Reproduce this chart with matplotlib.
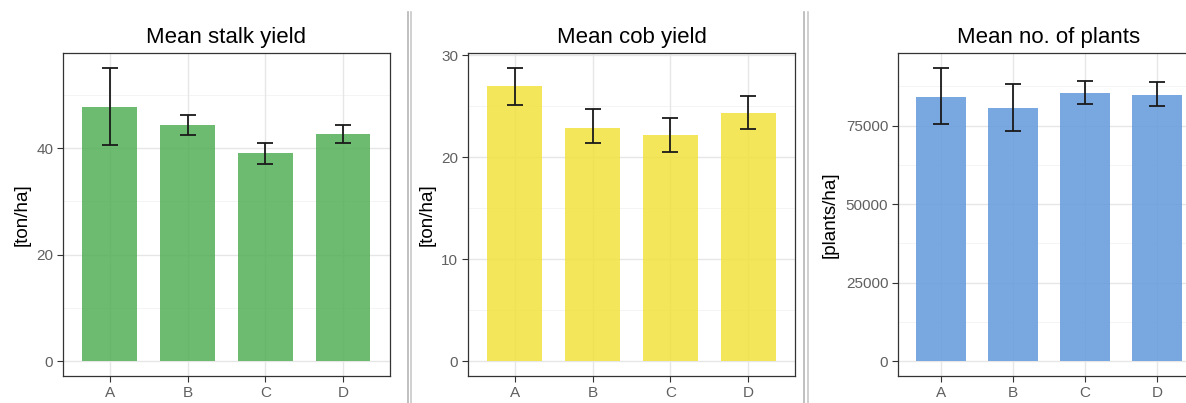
import matplotlib.pyplot as plt
from matplotlib.lines import Line2D

plt.rcParams['font.family'] = ['Liberation Sans', 'DejaVu Sans']

treatments = ['A', 'B', 'C', 'D']

stalk_mean = [47.8, 44.3, 39.0, 42.6]
stalk_low = [40.5, 42.4, 37.0, 40.9]
stalk_high = [55.1, 46.3, 40.9, 44.3]

cob_mean = [27.0, 22.9, 22.2, 24.4]
cob_low = [25.1, 21.4, 20.5, 22.8]
cob_high = [28.8, 24.7, 23.9, 26.0]

plants_mean = [84200, 80700, 85500, 84800]
plants_low = [75600, 73400, 82000, 81300]
plants_high = [93400, 88300, 89300, 89000]

panels = [
    ('Mean stalk yield', '[ton/ha]', stalk_mean, stalk_low, stalk_high,
     '#53af57', [0, 20, 40], [10, 30, 50], [0.0531, 0.067, 0.2757, 0.8015], 22),
    ('Mean cob yield', '[ton/ha]', cob_mean, cob_low, cob_high,
     '#f2e23d', [0, 10, 20, 30], [5, 15, 25], [0.3946, 0.067, 0.2757, 0.8015], 427),
    ('Mean no. of plants', '[plants/ha]', plants_mean, plants_low, plants_high,
     '#6299db', [0, 25000, 50000, 75000], [12500, 37500, 62500, 87500],
     [0.7572, 0.067, 0.2546, 0.8015], 830),
]

fig = plt.figure(figsize=(11.86, 4.03), dpi=100)

for title, ylab, mean, low, high, color, major, minor, rect, ylab_x in panels:
    ax = fig.add_axes(rect)
    x = range(len(treatments))
    ymax = max(high)
    pad = 0.05 * ymax
    ax.set_xlim(-0.6, 3.6)
    ax.set_ylim(-pad, ymax + pad)

    # grid (ggplot theme_bw style)
    for v in minor:
        ax.axhline(v, color='#f2f2f2', lw=0.6, zorder=0)
    for v in major:
        ax.axhline(v, color='#e6e6e6', lw=1.0, zorder=0)
    for xi in x:
        ax.axvline(xi, color='#e6e6e6', lw=1.0, zorder=0)

    ax.bar(x, mean, width=0.7, color=color, alpha=0.85, zorder=1)
    err = [[m - l for m, l in zip(mean, low)], [h - m for m, h in zip(mean, high)]]
    ax.errorbar(x, mean, yerr=err, fmt='none', ecolor='#1a1a1a', elinewidth=1.3,
                capsize=6, capthick=1.3, zorder=2)

    ax.set_xticks(list(x))
    ax.set_xticklabels(treatments)
    ax.set_yticks(major)
    ax.set_yticklabels([str(v) for v in major])
    ax.tick_params(colors='#333333', labelcolor='#606060', labelsize=11,
                   length=4, width=0.8, pad=3)
    for s in ax.spines.values():
        s.set_color('#333333')
        s.set_linewidth(0.9)

    ax.set_title(title, fontsize=16, pad=7)
    fig.text(ylab_x / 1186, rect[1] + rect[3] / 2, ylab, rotation=90,
             ha='center', va='center', fontsize=13.5)

# divider lines between the panels
for px, c in [(408, '#b5b5b5'), (411, '#c8c8c8'), (804, '#b5b5b5'), (808, '#c8c8c8')]:
    fig.add_artist(Line2D([px / 1186, px / 1186], [0, 1 - 12 / 403], color=c, lw=1.2))

fig.savefig('out.png', dpi=100)
